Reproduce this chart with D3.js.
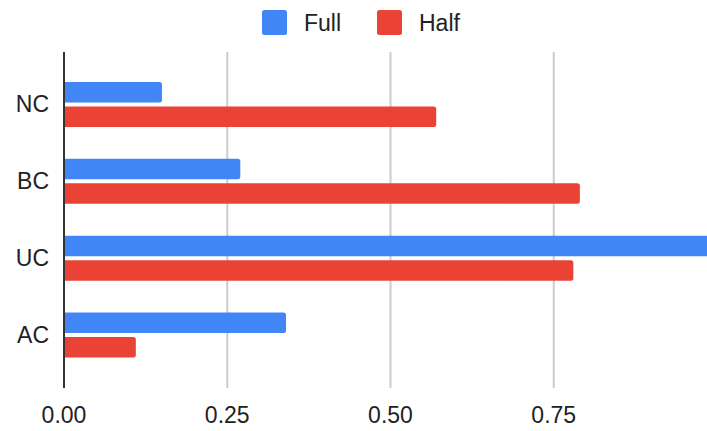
<!DOCTYPE html>
<html>
<head>
<meta charset="utf-8">
<script src="https://cdn.jsdelivr.net/npm/d3@7"></script>
<style>
  html, body { margin: 0; padding: 0; background: #fff; }
  svg { display: block; font-family: "Liberation Sans", Arial, sans-serif; }
</style>
</head>
<body>
<svg id="chart" width="707" height="431"></svg>
<script>
// Categories (top to bottom) and the two series
const categories = ["NC", "BC", "UC", "AC"];
const seriesNames = ["Full", "Half"];
const fullValues = [0.15, 0.27, 1.0, 0.34];
const halfValues = [0.57, 0.79, 0.78, 0.11];
const tickValues = [0, 0.25, 0.5, 0.75];
const tickLabels = ["0.00", "0.25", "0.50", "0.75"];
const colors = ["#4285F4", "#EA4335"];

const svg = d3.select("#chart");
const W = 707, H = 431;
const plotTop = 52, plotBottom = 388;

const x = d3.scaleLinear().domain([0, 1]).range([64, 717]);
const y = d3.scaleBand().domain(categories).range([66, 373.5]);
const groupH = 45;
const yInner = d3.scaleBand().domain(seriesNames).range([0, groupH]).paddingInner(0.163);
const color = d3.scaleOrdinal().domain(seriesNames).range(colors);

// Vertical gridlines
svg.append("g").selectAll("line")
  .data(tickValues.filter(v => v > 0))
  .join("line")
  .attr("x1", d => x(d)).attr("x2", d => x(d))
  .attr("y1", plotTop).attr("y2", plotBottom)
  .attr("stroke", "#cccccc").attr("stroke-width", 2);

// Bar path with rounded right end only
function barPath(x0, x1, y0, h, r) {
  r = Math.min(r, (x1 - x0) / 2, h / 2);
  return `M${x0},${y0}H${x1 - r}Q${x1},${y0} ${x1},${y0 + r}` +
         `V${y0 + h - r}Q${x1},${y0 + h} ${x1 - r},${y0 + h}H${x0}Z`;
}

const rows = categories.map((c, i) => ({
  cat: c,
  values: [
    { key: "Full", value: fullValues[i] },
    { key: "Half", value: halfValues[i] }
  ]
}));

const groups = svg.append("g").selectAll("g")
  .data(rows)
  .join("g")
  .attr("transform", d => `translate(0,${y(d.cat) + y.bandwidth() / 2 - groupH / 2})`);

groups.selectAll("path")
  .data(d => d.values)
  .join("path")
  .attr("d", d => barPath(x(0), x(d.value), yInner(d.key), yInner.bandwidth(), 2.5))
  .attr("fill", d => color(d.key));

// Category labels
svg.append("g").selectAll("text")
  .data(categories)
  .join("text")
  .attr("x", 49)
  .attr("y", d => y(d) + y.bandwidth() / 2)
  .attr("dy", "0.35em")
  .attr("text-anchor", "end")
  .attr("font-size", 23)
  .attr("fill", "#222")
  .text(d => d);

// Baseline axis at zero
svg.append("line")
  .attr("x1", x(0)).attr("x2", x(0))
  .attr("y1", plotTop).attr("y2", plotBottom)
  .attr("stroke", "#333").attr("stroke-width", 2);

// X tick labels
svg.append("g").selectAll("text")
  .data(tickValues)
  .join("text")
  .attr("x", d => x(d))
  .attr("y", 423)
  .attr("text-anchor", "middle")
  .attr("font-size", 23)
  .attr("fill", "#222")
  .text((d, i) => tickLabels[i]);

// Legend
const legendX = [262, 377];
const legend = svg.append("g").selectAll("g")
  .data(seriesNames)
  .join("g")
  .attr("transform", (d, i) => `translate(${legendX[i]},10)`);
legend.append("rect")
  .attr("width", 25).attr("height", 25).attr("rx", 2.5)
  .attr("fill", d => color(d));
legend.append("text")
  .attr("x", 42).attr("y", 20.5)
  .attr("font-size", 23)
  .attr("fill", "#222")
  .text(d => d);
</script>
</body>
</html>
